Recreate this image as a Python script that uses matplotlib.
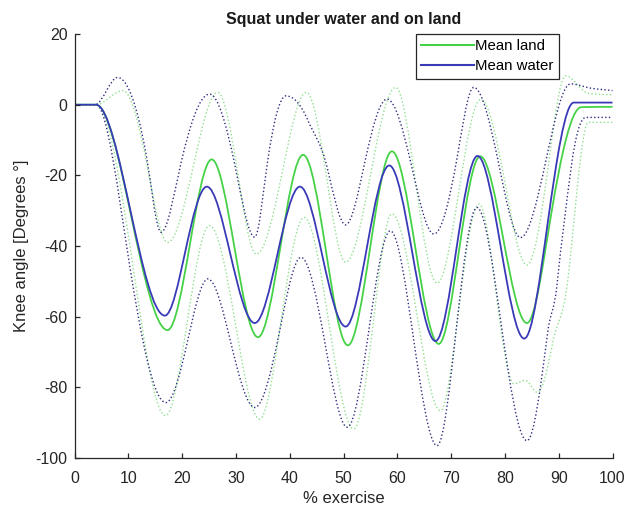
import matplotlib
matplotlib.use("Agg")
import matplotlib.pyplot as plt
import numpy as np
from matplotlib.lines import Line2D
from matplotlib.patches import PathPatch
from matplotlib.path import Path

plt.rcParams["font.family"] = ["Liberation Sans", "DejaVu Sans"]
plt.rcParams["axes.unicode_minus"] = False

# values (extrema and mid-slope points)
land_mean_x = [0, 4, 10.6, 17.3, 21.4, 25.5, 29.8, 34.1, 38.3, 42.5, 46.7, 50.8, 54.9, 59.0, 63.3, 67.7, 71.5, 75.4, 79.7, 84.1, 88.6, 94.2, 100]
land_mean_y = [0, 0, -32, -63.8, -40, -15.5, -41, -65.8, -40, -14.2, -41, -68.1, -41, -13.2, -40, -67.7, -41, -14.6, -38, -61.8, -31, -0.7, -0.6]

water_mean_x = [0, 4, 10.4, 16.8, 20.6, 24.6, 29.0, 33.5, 37.7, 41.9, 46.1, 50.4, 54.4, 58.5, 62.8, 67.1, 71.0, 74.9, 79.2, 83.6, 88.0, 92.8, 100]
water_mean_y = [0, 0, -30, -59.7, -41.5, -23.2, -42.5, -61.8, -42.5, -23.2, -43, -62.8, -40, -17.2, -42, -66.9, -40.7, -14.5, -40, -66.2, -33, 0.6, 0.6]

water_hi_x = [0, 3.8, 8.0, 13.3, 16.1, 19.8, 25.1, 29.8, 33.5, 35.8, 39.3, 43.4, 47.0, 50.4, 54.0, 58.1, 62.6, 66.8, 71.0, 74.2, 78.8, 82.9, 87.6, 92.2, 95.3, 100]
water_hi_y = [0, 0, 7.7, -14, -36.1, -16.5, 3.0, -17, -37.5, -17, 2.5, -4.5, -18, -34, -16, 1.6, -17, -36.6, -16, 4.9, -16.4, -37.6, -16, 5.9, 4.9, 4.0]

water_lo_x = [0, 4, 10.2, 17.0, 21.0, 24.8, 29.0, 33.5, 38.0, 42.1, 46.5, 50.7, 54.7, 58.7, 63.0, 67.4, 71.0, 74.8, 79.3, 84.1, 87.9, 89.7, 92.3, 95.0, 100]
water_lo_y = [0, 0, -45, -84.3, -67, -49.3, -67, -85.7, -65, -43.2, -67, -91.3, -64, -35.7, -66, -96.5, -63, -29.1, -62, -95.1, -65, -50.7, -18, -3.6, -3.6]

land_hi_x = [0, 4, 9.0, 13.6, 17.3, 22.0, 26.6, 30.3, 33.8, 38.5, 43.1, 46.8, 50.4, 55.0, 59.7, 63.5, 67.4, 71.5, 75.5, 80.0, 84.1, 88.0, 91.3, 95.5, 100]
land_hi_y = [0, 0, 4.0, -18, -39, -18, 3.5, -19, -42.3, -20, 3.5, -20, -44.6, -20, 4.9, -23, -50.5, -24, 1.5, -22, -45.4, -18, 8.2, 3.2, 2.8]

land_lo_x = [0, 4, 10.8, 16.9, 21.0, 25.1, 29.8, 34.4, 38.5, 42.7, 47.3, 51.9, 55.5, 59.0, 63.5, 68.0, 71.5, 75.2, 78.5, 81.7, 83.8, 86.0, 88.8, 91.6, 95.5, 100]
land_lo_y = [0, 0, -45, -88, -61, -34.2, -61, -89, -60, -31.9, -62, -91.8, -62, -30.9, -58, -86.6, -57, -28.1, -55, -79, -78, -81.4, -68, -50.7, -5, -5]

x_ticks = [0, 10, 20, 30, 40, 50, 60, 70, 80, 90, 100]
y_ticks = [20, 0, -20, -40, -60, -80, -100]

GREEN = "#46d246"
BLUE = "#3a3ab8"
GREEN_DOT = "#8fe08f"
BLUE_DOT = "#2c2c80"


def smooth_path(xs, ys, tension=1.5):
    """Monotone cubic through the points, drawn as Bezier segments."""
    x = np.asarray(xs, float)
    y = np.asarray(ys, float)
    h = np.diff(x)
    d = np.diff(y) / h
    m = np.zeros_like(x)
    m[0], m[-1] = d[0], d[-1]
    for k in range(1, len(x) - 1):
        if d[k - 1] * d[k] > 0:
            w1 = 2 * h[k] + h[k - 1]
            w2 = h[k] + 2 * h[k - 1]
            mk = (w1 + w2) / (w1 / d[k - 1] + w2 / d[k])
            cap = 3 * min(abs(d[k - 1]), abs(d[k]))
            m[k] = np.sign(mk) * min(abs(mk) * tension, cap)
    verts = [(x[0], y[0])]
    codes = [Path.MOVETO]
    for k in range(len(x) - 1):
        t = h[k] / 3
        verts += [(x[k] + t, y[k] + m[k] * t),
                  (x[k + 1] - t, y[k + 1] - m[k + 1] * t),
                  (x[k + 1], y[k + 1])]
        codes += [Path.CURVE4] * 3
    return Path(verts, codes)


def draw(ax, xs, ys, color, lw, ls="-"):
    ax.add_patch(PathPatch(smooth_path(xs, ys), fill=False, edgecolor=color,
                           linewidth=lw, linestyle=ls))


fig = plt.figure(figsize=(6.25, 5.11), dpi=100)
ax = fig.add_axes([0.1192, 0.1037, 0.8608, 0.8297])

draw(ax, land_hi_x, land_hi_y, GREEN_DOT, 1.0, ":")
draw(ax, land_lo_x, land_lo_y, GREEN_DOT, 1.0, ":")
draw(ax, water_hi_x, water_hi_y, BLUE_DOT, 1.0, ":")
draw(ax, water_lo_x, water_lo_y, BLUE_DOT, 1.0, ":")
draw(ax, land_mean_x, land_mean_y, GREEN, 1.3)
draw(ax, water_mean_x, water_mean_y, BLUE, 1.3)

ax.set_xlim(0, 100)
ax.set_ylim(-100, 20)
ax.set_xticks(x_ticks)
ax.set_yticks(y_ticks)
ax.spines["top"].set_visible(False)
ax.spines["right"].set_visible(False)
for s in ("left", "bottom"):
    ax.spines[s].set_color("#262626")
    ax.spines[s].set_linewidth(0.9)
ax.tick_params(direction="in", length=3.5, width=0.9, color="#262626",
               labelcolor="#262626", labelsize=11.5)
ax.tick_params(axis="x", pad=9)
ax.tick_params(axis="y", pad=5)

ax.set_xlabel("% exercise", fontsize=12, color="#262626", labelpad=4)
ax.set_ylabel("Knee angle [Degrees °]", fontsize=12, color="#262626", labelpad=5)
ax.set_title("Squat under water and on land", fontsize=11.5, fontweight="bold",
             color="#1a1a1a", pad=7)

handles = [Line2D([], [], color=GREEN, lw=1.5, label="Mean land"),
           Line2D([], [], color=BLUE, lw=1.5, label="Mean water")]
leg = ax.legend(handles=handles, loc="upper right", bbox_to_anchor=(0.9, 1.0),
                fontsize=10.8, handlelength=3.5, handletextpad=0.1,
                borderpad=0.35, labelspacing=0.4, borderaxespad=0.0,
                fancybox=False, framealpha=1.0, edgecolor="#262626")
leg.get_frame().set_linewidth(0.9)

fig.savefig("out.png", dpi=100)
